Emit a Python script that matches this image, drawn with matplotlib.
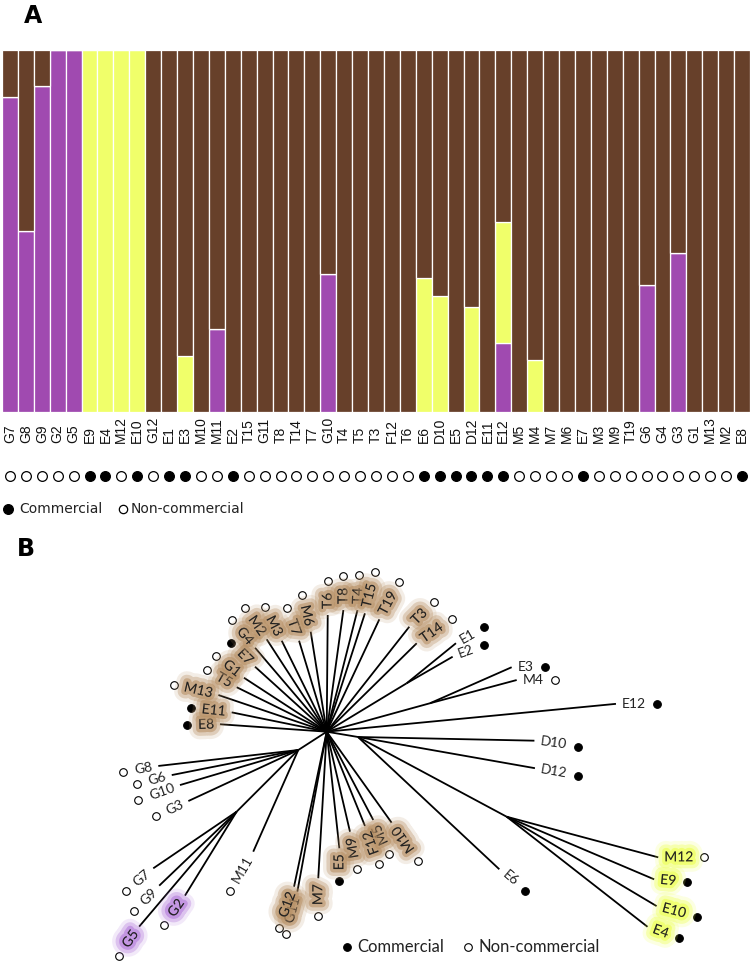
import matplotlib
matplotlib.use("Agg")
import matplotlib.pyplot as plt
import matplotlib.patheffects as pe
import matplotlib.transforms as mtransforms
from matplotlib.font_manager import FontProperties
from matplotlib.textpath import TextPath
from matplotlib.lines import Line2D
import numpy as np

# ---- panel A data (STRUCTURE memberships, bar order) ----
samples = ['G7', 'G8', 'G9', 'G2', 'G5', 'E9', 'E4', 'M12', 'E10', 'G12', 'E1', 'E3',
           'M10', 'M11', 'E2', 'T15', 'G11', 'T8', 'T14', 'T7', 'G10', 'T4', 'T5', 'T3',
           'F12', 'T6', 'E6', 'D10', 'E5', 'D12', 'E11', 'E12', 'M5', 'M4', 'M7', 'M6',
           'E7', 'M3', 'M9', 'T19', 'G6', 'G4', 'G3', 'G1', 'M13', 'M2', 'E8']
commercial = [0, 0, 0, 0, 0, 1, 1, 0, 1, 0, 1, 1,
              0, 0, 1, 0, 0, 0, 0, 0, 0, 0, 0, 0,
              0, 0, 1, 1, 1, 1, 1, 1, 0, 0, 0, 0,
              1, 0, 0, 0, 0, 0, 0, 0, 0, 0, 1]
q_purple = [0.87, 0.50, 0.90, 1.0, 1.0, 0, 0, 0, 0, 0, 0, 0,
            0, 0.23, 0, 0, 0, 0, 0, 0, 0.38, 0, 0, 0,
            0, 0, 0, 0, 0, 0, 0, 0.19, 0, 0, 0, 0,
            0, 0, 0, 0, 0.35, 0, 0.44, 0, 0, 0, 0]
q_yellow = [0, 0, 0, 0, 0, 1.0, 1.0, 1.0, 1.0, 0, 0, 0.155,
            0, 0, 0, 0, 0, 0, 0, 0, 0, 0, 0, 0,
            0, 0, 0.37, 0.32, 0, 0.29, 0, 0.335, 0, 0.145, 0, 0,
            0, 0, 0, 0, 0, 0, 0, 0, 0, 0, 0]
q_brown = [0.13, 0.50, 0.10, 0, 0, 0, 0, 0, 0, 1.0, 1.0, 0.845,
           1.0, 0.77, 1.0, 1.0, 1.0, 1.0, 1.0, 1.0, 0.62, 1.0, 1.0, 1.0,
           1.0, 1.0, 0.63, 0.68, 1.0, 0.71, 1.0, 0.475, 1.0, 0.855, 1.0, 1.0,
           1.0, 1.0, 1.0, 1.0, 0.65, 1.0, 0.56, 1.0, 1.0, 1.0, 1.0]

# ---- panel B data (unrooted tree: angle in degrees, branch length) ----
node_names = ['root', 'nG', 'nGc', 'nE12', 'nE3', 'nR', 'nY']
node_parent = [None, 'root', 'nG', 'root', 'root', 'root', 'nR']
node_angle = [0, 212.8, 225.0, 31.2, 15.4, -9.6, -28.2]
node_length = [0, 33.8, 87.2, 93.5, 107.1, 31.7, 168.7]

leaf_names = ['E8', 'E11', 'M13', 'T5', 'G1', 'E7', 'G4', 'M2', 'M3', 'T7', 'M6', 'T6',
              'T8', 'T4', 'T15', 'T19', 'T3', 'T14', 'E1', 'E2', 'E3', 'M4', 'E12',
              'D10', 'D12', 'E6', 'M12', 'E9', 'E10', 'E4', 'M10', 'M5', 'F12', 'M9',
              'E5', 'M7', 'G11', 'G12', 'M11', 'G8', 'G6', 'G10', 'G3', 'G7', 'G9',
              'G5', 'G2']
leaf_parent = ['root'] * 18 + ['nE12', 'nE12', 'nE3', 'nE3', 'root', 'nR', 'nR', 'nR',
               'nY', 'nY', 'nY', 'nY'] + ['root'] * 8 + ['nG'] * 5 + ['nGc'] * 4
leaf_angle = [176.0, 168.5, 161.3, 153.7, 146.9, 137.8, 130.5, 123.0, 116.3, 106.9, 99.1,
              89.5, 82.2, 75.8, 72.1, 64.9, 51.8, 44.5, 39.1, 30.0, 23.8, 15.0, 5.5,
              -1.2, -10.0, -43.1, -15.0, -23.0, -30.8, -38.0, -54.5, -62.2, -67.9, -76.9,
              -83.8, 266.7, 259.6, 258.1, 246.1, 186.5, 191.2, 196.5, 204.9, 214.2,
              223.7, 229.7, 238.4]
leaf_length = [107.0, 97.0, 114.4, 100.4, 98.8, 96.8, 110.4, 110.2, 101.5, 95.1, 101.3,
               116.7, 122.8, 125.5, 124.4, 124.1, 133.6, 126.2, 63.5, 53.1, 89.3, 89.8,
               290.6, 176.5, 179.7, 193.6, 157.0, 160.3, 174.6, 178.8, 111.8, 99.8, 101.8,
               102.7, 117.3, 146.8, 162.7, 158.4, 111.2, 140.9, 129.0, 123.4, 121.2,
               100.8, 107.1, 150.7, 98.6]
leaf_cluster = ['brown'] * 18 + [None] * 8 + ['yellow'] * 4 + ['brown'] * 8 + \
               [None] * 7 + ['purple'] * 2

# ---- styling ----
W, H, DPI = 750, 966, 100
col = {'purple': '#A04AB0', 'yellow': '#F0FF6A', 'brown': '#67402A'}
glow = {'brown': (0.72, 0.57, 0.40), 'purple': (0.70, 0.48, 0.86), 'yellow': (0.93, 1.0, 0.30)}
# text rotation of each leaf label (same order as leaf_names)
label_rot = [2, -6, -13, -30, -38, -45, -50, -55, -63, -70, -77, 90,
             90, 88, 76, 62, 45, 35, 30, 20, 0, 0, 0,
             -8, -10, -40, 0, -5, -15, -20, 125, 115, 110, 100,
             90, 90, 75, 70, 60, 10, 15, 20, 25, 40,
             45, 55, 55]
TREE_FS = 10

tick_font = dict(family='Liberation Sans', size=10)
tree_fp = FontProperties(family='Lato', size=TREE_FS)


def fig_xy(px, py):
    return px / W, 1 - py / H


fig = plt.figure(figsize=(W / DPI, H / DPI), dpi=DPI)

# ---------------- panel A ----------------
ax_a = fig.add_axes([2 / W, 1 - 412 / H, 748 / W, 362 / H])
x = np.arange(len(samples))
p = np.array(q_purple)
yv = np.array(q_yellow)
b = np.array(q_brown)
ax_a.bar(x, p, width=1.0, color=col['purple'], edgecolor='white', linewidth=0.9)
ax_a.bar(x, yv, bottom=p, width=1.0, color=col['yellow'], edgecolor='white', linewidth=0.9)
ax_a.bar(x, b, bottom=p + yv, width=1.0, color=col['brown'], edgecolor='white', linewidth=0.9)
ax_a.set_xlim(-0.5, len(samples) - 0.5)
ax_a.set_ylim(0, 1)
ax_a.axis('off')

blend = mtransforms.blended_transform_factory(ax_a.transData, ax_a.transAxes)
lab_y = (412 - 443) / 362
mark_y = (412 - 476) / 362
for i, (name, c) in enumerate(zip(samples, commercial)):
    ax_a.text(i, lab_y, name, rotation=90, ha='center', va='bottom', transform=blend,
              color='#111111', **tick_font)
    ax_a.plot(i, mark_y, marker='o', ms=7, mec='black', mew=0.9,
              mfc='black' if c else 'white', transform=blend, clip_on=False)

# legend A
for (mx, filled), (tx, txt) in zip([(8, True), (123, False)],
                                   [(19, 'Commercial'), (131, 'Non-commercial')]):
    fig.add_artist(Line2D([mx / W], [1 - 509 / H], marker='o', ms=7 if filled else 6,
                          mfc='black' if filled else 'white', mec='black', mew=0.9,
                          transform=fig.transFigure))
    fig.text(*fig_xy(tx, 509), txt, ha='left', va='center', fontsize=10,
             family='DejaVu Sans', color='#222222')

fig.text(*fig_xy(24, 16), 'A', fontsize=17, fontweight='bold', family='DejaVu Sans',
         ha='left', va='center')
fig.text(*fig_xy(17, 549), 'B', fontsize=17, fontweight='bold', family='DejaVu Sans',
         ha='left', va='center')

# ---------------- panel B ----------------
CX, CY, TOP = 326.7, 731.7, 540
ax_b = fig.add_axes([0, 0, 1, (H - TOP) / H])
ax_b.set_xlim(-CX, W - CX)
ax_b.set_ylim(-(H - CY), CY - TOP)
ax_b.axis('off')

pos = {}
for n, par, ang, ln in zip(node_names, node_parent, node_angle, node_length):
    if par is None:
        pos[n] = np.zeros(2)
        continue
    t = np.radians(ang)
    pos[n] = pos[par] + ln * np.array([np.cos(t), np.sin(t)])
    ax_b.plot([pos[par][0], pos[n][0]], [pos[par][1], pos[n][1]], color='black', lw=1.3,
              solid_capstyle='butt')

is_comm = dict(zip(samples, commercial))
pad, gap = 6, 13
for name, par, ang, ln, cl, rot in zip(leaf_names, leaf_parent, leaf_angle, leaf_length,
                                       leaf_cluster, label_rot):
    t = np.radians(ang)
    u = np.array([np.cos(t), np.sin(t)])
    tip = pos[par] + ln * u
    ax_b.plot([pos[par][0], tip[0]], [pos[par][1], tip[1]], color='black', lw=1.3,
              solid_capstyle='butt')
    inward = 90 < ang % 360 < 312
    # outward direction of the label text
    lt = np.radians(rot + 180 if inward else rot)
    ul = np.array([np.cos(lt), np.sin(lt)])
    w = TextPath((0, 0), name, size=TREE_FS, prop=tree_fp).get_extents().width * DPI / 72
    anchor = tip + ul * pad
    effects = None
    if cl is not None:
        g = glow[cl]
        effects = [pe.Stroke(linewidth=15, foreground=g, alpha=0.16),
                   pe.Stroke(linewidth=10, foreground=g, alpha=0.35),
                   pe.Stroke(linewidth=5, foreground=g, alpha=0.6),
                   pe.Normal()]
    ax_b.text(anchor[0], anchor[1], name, rotation=rot, rotation_mode='anchor',
              ha='right' if inward else 'left', va='center', fontproperties=tree_fp,
              color='#222222', path_effects=effects)
    m = anchor + ul * (w + gap)
    ax_b.plot(m[0], m[1], marker='o', ms=5.5, mec='black', mew=0.8,
              mfc='black' if is_comm[name] else 'white')

# legend B
for (mx, filled), (tx, txt) in zip([(347, True), (468, False)],
                                   [(357, 'Commercial'), (478, 'Non-commercial')]):
    fig.add_artist(Line2D([mx / W], [1 - 947 / H], marker='o', ms=5.5,
                          mfc='black' if filled else 'white', mec='black', mew=0.8,
                          transform=fig.transFigure))
    fig.text(*fig_xy(tx, 947), txt, ha='left', va='center', fontsize=12,
             family='Lato', color='#222222')

fig.savefig('out.png', dpi=DPI)
